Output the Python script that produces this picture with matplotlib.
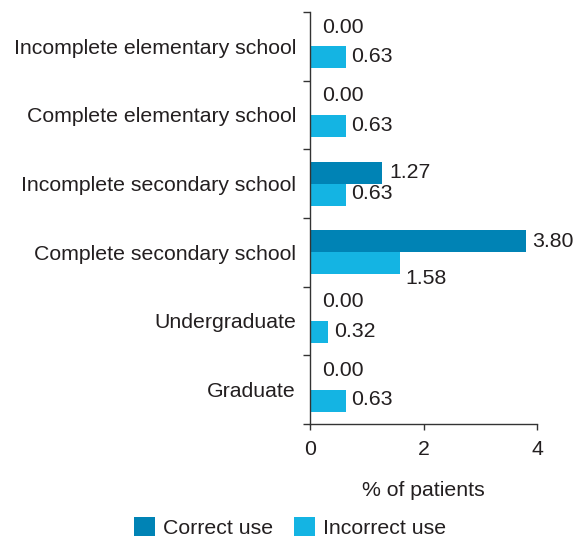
import matplotlib
matplotlib.use("Agg")
import matplotlib.pyplot as plt
import numpy as np

plt.rcParams['font.family'] = ['Liberation Sans', 'DejaVu Sans']

categories = ["Incomplete elementary school", "Complete elementary school",
              "Incomplete secondary school", "Complete secondary school",
              "Undergraduate", "Graduate"]
correct_use = [0.00, 0.00, 1.27, 3.80, 0.00, 0.00]
incorrect_use = [0.63, 0.63, 0.63, 1.58, 0.32, 0.63]
xticks = [0, 2, 4]

dark = "#0083B5"
light = "#14B4E3"
txt = "#231F20"

fig = plt.figure(figsize=(5.82, 5.41), dpi=100)
ax = fig.add_axes([310/582, 1-424/541, 227/582, 412/541])

n = len(categories)
y = np.arange(n)
h = 0.32
ax.barh(y - h/2, correct_use, height=h, color=dark, label="Correct use")
ax.barh(y + h/2, incorrect_use, height=h, color=light, label="Incorrect use")

fs = 15.3
for i in range(n):
    c = correct_use[i]
    dx, dy = (9, 6) if c == 0 else (5, 0)
    ax.annotate(f"{c:.2f}", xy=(c, y[i] - h/2), xytext=(dx, dy), textcoords="offset points",
                va="center", ha="left", fontsize=fs, color=txt)
    v = incorrect_use[i]
    dy = 0.5 if v < 1 else -11
    ax.annotate(f"{v:.2f}", xy=(v, y[i] + h/2), xytext=(4, dy), textcoords="offset points",
                va="center", ha="left", fontsize=fs, color=txt)

ax.set_xlim(0, 4)
ax.set_ylim(n - 0.5, -0.5)
ax.set_xticks(xticks)
ax.set_xticklabels([str(t) for t in xticks], fontsize=fs, color=txt)
ax.set_yticks(np.arange(-0.5, n, 1.0))
ax.set_yticklabels([])
ax.set_yticks(y, minor=True)
ax.set_yticklabels(categories, minor=True, fontsize=fs, color=txt)
ax.tick_params(axis='y', which='minor', length=0, pad=10)
ax.tick_params(axis='y', which='major', length=5, width=1, color="#333333")
ax.tick_params(axis='x', length=4.5, width=1, color="#333333", pad=7)
for s in ["top", "right"]:
    ax.spines[s].set_visible(False)
for s in ["left", "bottom"]:
    ax.spines[s].set_color("#333333")
    ax.spines[s].set_linewidth(1)
ax.set_xlabel("% of patients", fontsize=fs, color=txt, labelpad=16)

fig.legend(loc="lower center", bbox_to_anchor=(290/582, -0.03), ncol=2, frameon=False,
           fontsize=fs, handlelength=1.0, handleheight=1.0, handletextpad=0.35,
           columnspacing=1.0, labelcolor=txt)

fig.savefig("out.png", dpi=100)
